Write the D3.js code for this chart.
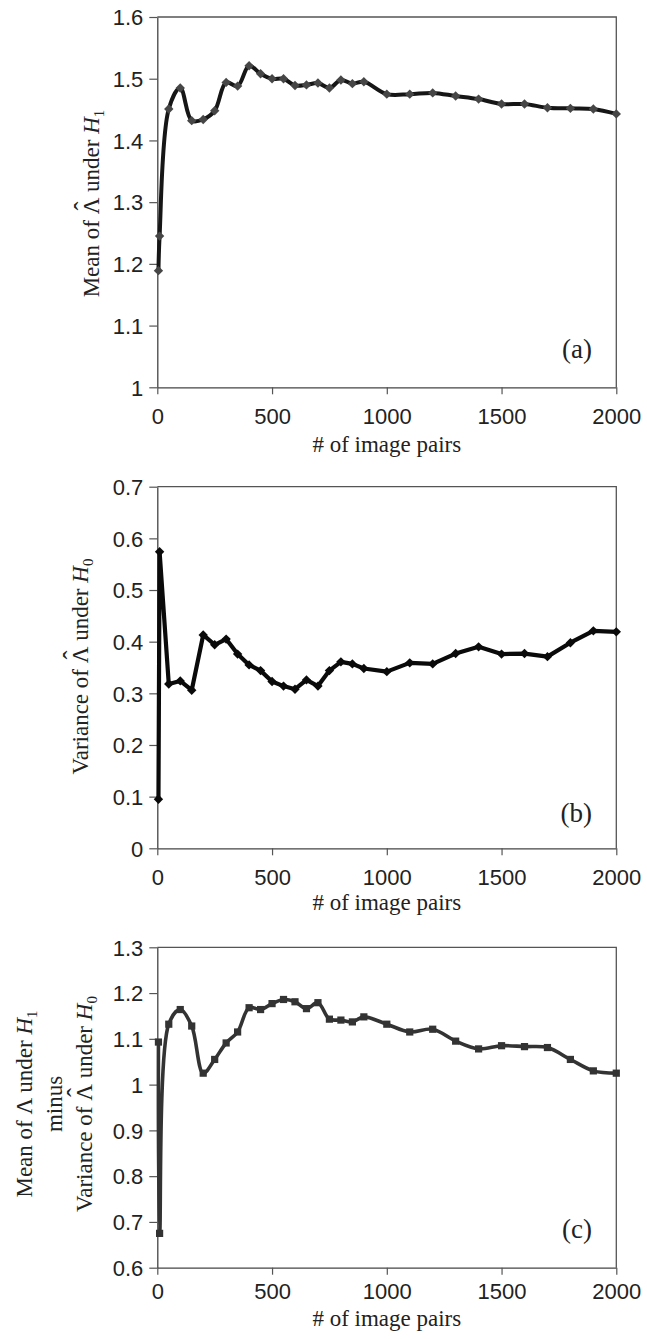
<!DOCTYPE html>
<html>
<head>
<meta charset="utf-8">
<script src="https://cdn.jsdelivr.net/npm/d3@7"></script>
<style>
  html, body { margin: 0; padding: 0; background: #fff; }
  svg { display: block; }
</style>
</head>
<body>
<script>
// Number of image pairs at which the statistics were evaluated
const pairCounts = [5, 10, 50, 100, 150, 200, 250, 300, 350, 400, 450, 500, 550, 600, 650,
  700, 750, 800, 850, 900, 1000, 1100, 1200, 1300, 1400, 1500, 1600, 1700, 1800, 1900, 2000];

// (a) Mean of the statistic under H1
const meanH1 = [1.189, 1.245, 1.451, 1.485, 1.432, 1.434, 1.448, 1.494, 1.488, 1.521, 1.508,
  1.500, 1.500, 1.489, 1.490, 1.493, 1.485, 1.498, 1.492, 1.495, 1.475, 1.475, 1.477,
  1.472, 1.467, 1.459, 1.459, 1.453, 1.452, 1.451, 1.443];

// (b) Variance of the statistic under H0
const varianceH0 = [0.095, 0.574, 0.318, 0.324, 0.306, 0.413, 0.394, 0.405, 0.376, 0.355, 0.344,
  0.323, 0.314, 0.308, 0.326, 0.314, 0.344, 0.361, 0.357, 0.348, 0.342, 0.359, 0.357,
  0.377, 0.390, 0.376, 0.377, 0.371, 0.398, 0.421, 0.419];

// (c) Mean under H1 minus variance under H0
const meanMinusVariance = [1.093, 0.675, 1.132, 1.164, 1.128, 1.025, 1.055, 1.091, 1.115, 1.168, 1.164,
  1.177, 1.186, 1.181, 1.166, 1.179, 1.143, 1.141, 1.137, 1.148, 1.132, 1.115, 1.121,
  1.095, 1.078, 1.085, 1.083, 1.081, 1.055, 1.030, 1.025];

// Axis ticks
const xTicks = [0, 500, 1000, 1500, 2000];
const yTicksA = [1, 1.1, 1.2, 1.3, 1.4, 1.5, 1.6];
const yTicksB = [0, 0.1, 0.2, 0.3, 0.4, 0.5, 0.6, 0.7];
const yTicksC = [0.6, 0.7, 0.8, 0.9, 1, 1.1, 1.2, 1.3];

const panelTags = ["(a)", "(b)", "(c)"];
const xAxisTitle = "# of image pairs";

const W = 647, H = 1339;
const left = 157.3, right = 616.3;
const serif = "'Liberation Serif', 'Times New Roman', serif";
const sans = "'Liberation Sans', Arial, sans-serif";

const svg = d3.select("body").append("svg")
  .attr("width", W).attr("height", H)
  .attr("viewBox", `0 0 ${W} ${H}`);

const x = d3.scaleLinear().domain([0, 2000]).range([left, right]);

const panels = [
  { values: meanH1, ticks: yTicksA, domain: [1, 1.6], top: 17, bottom: 387.3,
    tag: panelTags[0], tagBase: 358, xLabPad: 14, xTitleBase: 452,
    curve: d3.curveCatmullRom.alpha(0.5), lineColor: "#161616", markColor: "#464646",
    lineWidth: 4, marker: "diamond",
    title: { center: 203.5, lines: [{ base: 99, parts: "mean" }] } },
  { values: varianceH0, ticks: yTicksB, domain: [0, 0.7], top: 486.7, bottom: 848.3,
    tag: panelTags[1], tagBase: 822, xLabPad: 14, xTitleBase: 910,
    curve: d3.curveLinear, lineColor: "#0a0a0a", markColor: "#0a0a0a",
    lineWidth: 4.2, marker: "diamond",
    title: { center: 666.5, lines: [{ base: 88, parts: "var" }] } },
  { values: meanMinusVariance, ticks: yTicksC, domain: [0.6, 1.3], top: 947.3, bottom: 1267.7,
    tag: panelTags[2], tagBase: 1238, xLabPad: 9, xTitleBase: 1326,
    curve: d3.curveCatmullRom.alpha(0.5), lineColor: "#333", markColor: "#333",
    lineWidth: 3.6, marker: "square",
    title: { center: 1104, lines: [
      { base: 32, parts: "meanPlain" }, { base: 62, parts: "minus" }, { base: 92, parts: "var" }] } }
];

// Writes one line of a rotated axis title: Λ (optionally with a hat), italic H and subscript
function writeTitle(textSel, kind) {
  if (kind === "minus") { textSel.append("tspan").text("minus"); return; }
  const lead = kind === "var" ? "Variance of " : "Mean of ";
  const sub = kind === "var" ? "0" : "1";
  textSel.append("tspan").text(lead);
  const lam = textSel.append("tspan").text("\u039B");
  let after = " under ";
  if (kind !== "meanPlain") {
    // circumflex centred over the Λ
    const lamW = 0.722 * 23, hatSize = 27, hatW = 0.333 * hatSize;
    textSel.append("tspan")
      .attr("font-size", hatSize)
      .attr("dx", -(lamW / 2 + hatW / 2)).attr("dy", -6.5)
      .text("\u02C6");
    textSel.append("tspan")
      .attr("dx", lamW / 2 - hatW / 2).attr("dy", 6.5)
      .text(after);
  } else {
    textSel.append("tspan").text(after);
  }
  textSel.append("tspan").attr("font-style", "italic").text("H");
  textSel.append("tspan").attr("font-size", 15).attr("dy", 5).text(sub);
}

panels.forEach(p => {
  const y = d3.scaleLinear().domain(p.domain).range([p.bottom, p.top]);
  const g = svg.append("g");

  // Plot frame (top and right edges)
  g.append("path")
    .attr("d", `M${left},${p.top}H${right}V${p.bottom}`)
    .attr("fill", "none").attr("stroke", "#555").attr("stroke-width", 1.3);

  // Left axis
  const yAxis = g.append("g").attr("transform", `translate(${left},0)`)
    .call(d3.axisLeft(y).tickValues(p.ticks).tickSize(8).tickPadding(6)
      .tickFormat(d3.format("~g")).tickSizeOuter(0));
  // Bottom axis
  const xAxis = g.append("g").attr("transform", `translate(0,${p.bottom})`)
    .call(d3.axisBottom(x).tickValues(xTicks).tickSize(7).tickPadding(p.xLabPad)
      .tickFormat(d3.format("d")).tickSizeOuter(0));

  [yAxis, xAxis].forEach(a => {
    a.select(".domain").attr("stroke", "#444").attr("stroke-width", 1.3);
    a.selectAll(".tick line").attr("stroke", "#555").attr("stroke-width", 1.2);
    a.selectAll(".tick text").attr("font-family", sans).attr("font-size", 22).attr("fill", "#222");
  });
  yAxis.selectAll(".tick text").attr("dy", "0.35em");

  // Series line
  const line = d3.line()
    .x((d, i) => x(pairCounts[i]))
    .y(d => y(d))
    .curve(p.curve);
  g.append("path").datum(p.values)
    .attr("d", line)
    .attr("fill", "none")
    .attr("stroke", p.lineColor)
    .attr("stroke-width", p.lineWidth)
    .attr("stroke-linejoin", "round");

  // Markers
  const sym = p.marker === "square"
    ? d3.symbol().type(d3.symbolSquare).size(52)
    : d3.symbol().type(d3.symbolSquare).size(44);
  g.selectAll("path.mark").data(p.values).join("path")
    .attr("class", "mark")
    .attr("d", sym)
    .attr("transform", (d, i) => `translate(${x(pairCounts[i])},${y(d)})` +
      (p.marker === "diamond" ? " rotate(45)" : ""))
    .attr("fill", p.markColor);

  // Panel tag
  g.append("text")
    .attr("x", 592).attr("y", p.tagBase)
    .attr("text-anchor", "end")
    .attr("font-family", serif).attr("font-size", 27).attr("fill", "#222")
    .text(p.tag);

  // X axis title
  g.append("text")
    .attr("x", (left + right) / 2).attr("y", p.xTitleBase)
    .attr("text-anchor", "middle")
    .attr("font-family", serif).attr("font-size", 23).attr("fill", "#222")
    .text(xAxisTitle);

  // Y axis title (rotated)
  p.title.lines.forEach(l => {
    const t = g.append("text")
      .attr("transform", `translate(${l.base},${p.title.center}) rotate(-90)`)
      .attr("text-anchor", "middle")
      .attr("font-family", serif).attr("font-size", 23).attr("fill", "#222");
    writeTitle(t, l.parts);
  });
});
</script>
</body>
</html>
